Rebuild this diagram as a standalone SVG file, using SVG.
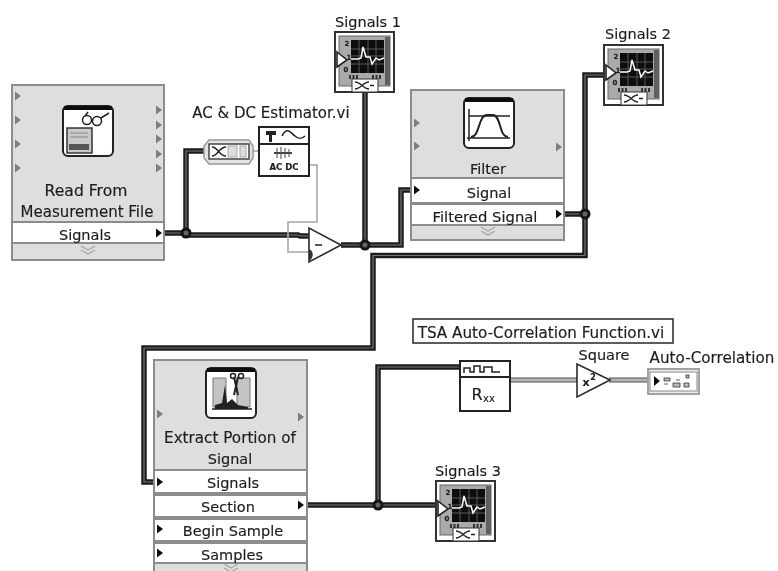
<svg xmlns="http://www.w3.org/2000/svg" width="778" height="571" viewBox="0 0 778 571">
<style>
text{font-family:"DejaVu Sans",Verdana,sans-serif;fill:#1c1c1c;stroke:#1c1c1c;stroke-width:.15px;font-size:14.5px;text-anchor:middle}
.t{font-size:15.200px}
.panel{fill:#dedede;stroke:#8c8c8c;stroke-width:2}
.row{fill:#fff;stroke:#8c8c8c;stroke-width:2}
.wo{fill:none;stroke:#1e1e1e;stroke-width:5.500}
.wi{fill:none;stroke:#777;stroke-width:1.200}
.go{fill:none;stroke:#868686;stroke-width:5.500}
.gi{fill:none;stroke:#c4c4c4;stroke-width:1.400}
.thin{fill:none;stroke:#a8a8a8;stroke-width:1.600}
.j{fill:#666;stroke:#141414;stroke-width:3}
.box{fill:#fff;stroke:#222;stroke-width:2}
.tri{fill:#fff;stroke:#2a2a2a;stroke-width:1.600}
.pin{fill:#111}
.gpin{fill:#7e7e7e}
.chev{fill:none;stroke:#a6a6a6;stroke-width:1.300}
.ico{fill:#fff;stroke:#222;stroke-width:2}
.k{fill:none;stroke:#222;stroke-width:1.500}
</style>
<defs>
<filter id="soft" x="0" y="0" width="100%" height="100%"><feGaussianBlur stdDeviation="0.35"/></filter>
<path id="p" d="M0-4.500L6 0L0 4.500Z"/>
<path id="chv" class="chev" d="M-7 0L0 4L7 0M-7 4L0 8L7 4"/>
<g id="scope">
<rect x="1" y="1" width="59" height="60" fill="#fff" stroke="#333" stroke-width="2"/>
<rect x="5" y="5" width="51" height="50" fill="#aaa" stroke="#666"/>
<rect x="51" y="6" width="5" height="48" fill="#5e5e5e"/>
<rect x="17" y="9" width="33" height="33" fill="#0f0f0f"/>
<path d="M17 18H50M17 25H50M17 33H50M25 9V42M34 9V42M42 9V42" stroke="#666" stroke-width=".8" fill="none"/>
<path d="M17 28H24L27 27L29 16L32 26L36 26L38 33L42 27L45 29L50 27" stroke="#fff" stroke-width="1.500" fill="none"/>
<path d="M3 21L13 29L3 36Z" fill="#fff" stroke="#222" stroke-width="1.600"/>
<text x="13" y="15" style="font-size:7px;font-weight:bold">2</text>
<text x="15" y="29" style="font-size:7px;font-weight:bold">1</text>
<text x="12" y="41" style="font-size:7px;font-weight:bold">0</text>
<path d="M15 46h10M38 46h10" stroke="#333" stroke-width="4" stroke-dasharray="2 1.500"/>
<rect x="18" y="48" width="26" height="13" fill="#fff" stroke="#333"/>
<path d="M21 51C27 51 29 58 35 58M21 58C27 58 29 51 35 51M36 54.500h4" stroke="#222" stroke-width="1.400" fill="none"/>
</g>
<g id="shell"><rect x="1" y="1" width="50" height="50" rx="5" class="ico"/><rect x="2" y="1" width="48" height="4" fill="#111"/></g>
<g id="wires">
<path d="M164 233H186V151H205M186 233V235H298L300 236H309M341 245H401V190H412M365 245V92M564 214H585M605 75H585V255.500H373V348H144V482H155M307 505H435M378 505V367H461"/>
</g>
</defs>
<g filter="url(#soft)">
<rect width="778" height="571" fill="#fff"/>
<g id="connectors">
<use href="#wires" class="wo"/>
<use href="#wires" class="wi"/>
<path class="go" d="M510 380H578M609 380H650"/>
<path class="gi" d="M510 380H578M609 380H650"/>
<path class="thin" d="M310 165H317V222H288V252H309"/>
<path class="thin" d="M253 151H259"/>
</g>
<g id="read-file">
<rect class="panel" x="12" y="85" width="152" height="175"/>
<use href="#shell" x="62" y="105"/>
<rect x="67" y="128" width="25" height="25" fill="#c9c9c9" stroke="#333" stroke-width="1.500"/>
<path d="M70 133H88M70 137H88" stroke="#888"/><path d="M69 144H89V150H69Z" fill="#555"/>
<circle cx="87" cy="120" r="4.500" class="k"/><circle cx="97" cy="121" r="4.500" class="k"/><path class="k" d="M91 120H93M101 118L109 113M85 116L88 112"/>
<text x="86" y="196" style="font-size:15.600px">Read From</text>
<text x="87" y="217" style="font-size:15px">Measurement File</text>
<rect class="row" x="12" y="222" width="152" height="21"/>
<text x="85" y="240">Signals</text>
<use href="#chv" x="88" y="246"/>
<use href="#p" class="gpin" x="15" y="96"/><use href="#p" class="gpin" x="15" y="120"/><use href="#p" class="gpin" x="15" y="144"/><use href="#p" class="gpin" x="15" y="168"/>
<use href="#p" class="gpin" x="156" y="110"/><use href="#p" class="gpin" x="156" y="125"/><use href="#p" class="gpin" x="156" y="139"/><use href="#p" class="gpin" x="156" y="154"/><use href="#p" class="gpin" x="156" y="168"/>
<use href="#p" class="pin" x="156" y="233"/>
</g>
<g id="converter">
<path d="M204 146L209 140H249L253 146V158L249 164H209L204 158Z" fill="#e4e4e4" stroke="#999" stroke-width="1.500"/>
<rect x="209" y="144" width="40" height="15" fill="#fff" stroke="#444" stroke-width="1.500"/>
<path d="M212 147C218 147 219 156 226 156M212 156C218 156 219 147 226 147" stroke="#222" stroke-width="1.400" fill="none"/>
<rect x="228" y="146" width="9" height="11" fill="#ddd" stroke="#aaa"/><rect x="240" y="146" width="6" height="11" fill="#ddd" stroke="#aaa"/>
</g>
<g id="ac-dc">
<text class="t" x="271" y="118" style="font-size:15px">AC &amp; DC Estimator.vi</text>
<rect class="box" x="259" y="127" width="50" height="49"/>
<path d="M259 144H309" stroke="#222" stroke-width="2"/>
<path d="M266 131H276V135H272V142H269V135H266Z" fill="#222"/>
<path class="k" d="M282 136C287 126 291 133 295 136C298 139 302 139 305 136"/>
<path d="M274 153H292" stroke="#444" stroke-width="2"/><path d="M277 148V158M281 147V159M285 148V158M289 149V157" stroke="#444"/>
<text x="284" y="170" style="font-size:8.500px;font-weight:bold">AC DC</text>
</g>
<g id="subtract">
<path class="tri" d="M309 228V262L341 245Z"/>
<path d="M315 245H322" stroke="#222" stroke-width="1.500"/>
<path d="M309 249C314 251 314 258 309 261Z" fill="#333"/>
</g>
<g id="signals-1">
<text x="368" y="27">Signals 1</text>
<use href="#scope" x="334" y="31"/>
</g>
<g id="filter">
<rect class="panel" x="411" y="90" width="153" height="150"/>
<use href="#shell" x="463" y="97"/>
<path class="k" d="M469 109V141M467 138H510M469 116H510"/>
<path d="M471 137C480 137 478 115 487 115H493C501 115 499 137 508 137" fill="none" stroke="#222" stroke-width="2"/>
<text x="488" y="174">Filter</text>
<rect class="row" x="411" y="178" width="153" height="25"/>
<text x="489" y="198">Signal</text>
<rect class="row" x="411" y="204" width="153" height="21"/>
<text x="485" y="222" style="font-size:14.800px">Filtered Signal</text>
<use href="#chv" x="488" y="227"/>
<use href="#p" class="gpin" x="414" y="123"/><use href="#p" class="gpin" x="414" y="146"/><use href="#p" class="gpin" x="556" y="147"/>
<use href="#p" class="pin" x="414" y="190"/><use href="#p" class="pin" x="556" y="214"/>
</g>
<g id="signals-2">
<text x="638" y="39">Signals 2</text>
<use href="#scope" x="603" y="44"/>
</g>
<g id="extract">
<path class="panel" d="M154 571V360H307V571"/>
<use href="#shell" x="205" y="367"/>
<path d="M213 378H226V407H213ZM237 378H250V407H237Z" fill="#c4c4c4" stroke="#777"/>
<path d="M212 409H252" stroke="#222" stroke-width="1.500"/><path d="M215 405L222 403L225 385L227 403L232 399L238 405L248 407V409H215Z" fill="#222"/>
<path d="M238 377L234 395M234 377L238 395" stroke="#222" stroke-width="2"/><circle cx="233" cy="376" r="2.500" class="k"/><circle cx="241" cy="376" r="2.500" class="k"/>
<text class="t" x="230" y="443">Extract Portion of</text>
<text x="230" y="464">Signal</text>
<rect class="row" x="154" y="470" width="153" height="23"/>
<text x="233" y="488">Signals</text>
<rect class="row" x="154" y="495" width="153" height="22"/>
<text x="228" y="512">Section</text>
<rect class="row" x="154" y="519" width="153" height="22"/>
<text x="233" y="536">Begin Sample</text>
<rect class="row" x="154" y="543" width="153" height="20"/>
<text x="232" y="560">Samples</text>
<use href="#chv" x="231" y="564"/>
<use href="#p" class="gpin" x="157" y="414"/><use href="#p" class="gpin" x="298" y="417"/>
<use href="#p" class="pin" x="157" y="482"/><use href="#p" class="pin" x="298" y="505"/><use href="#p" class="pin" x="157" y="529"/><use href="#p" class="pin" x="157" y="553"/>
</g>
<g id="signals-3">
<text x="468" y="476">Signals 3</text>
<use href="#scope" x="435" y="480"/>
</g>
<g id="tsa-label">
<rect x="413" y="319" width="260" height="24" fill="#fff" stroke="#333" stroke-width="1.600"/>
<text class="t" x="541" y="338">TSA Auto-Correlation Function.vi</text>
</g>
<g id="rxx">
<rect class="box" x="460" y="361" width="50" height="50"/>
<path d="M460 377H510" stroke="#222" stroke-width="2"/>
<path class="k" d="M464 373V368H470V372H474V366H480V372H484V367H492V372H500"/>
<text x="477" y="400" style="font-size:16px">R</text>
<text x="489" y="402" style="font-size:10px">xx</text>
</g>
<g id="square">
<text x="604" y="360">Square</text>
<path class="tri" d="M577 364V397L610 380Z"/>
<text x="586" y="386" style="font-size:11px;font-weight:bold">x</text>
<text x="593" y="380" style="font-size:8px;font-weight:bold">2</text>
</g>
<g id="auto-correlation">
<text class="t" x="712" y="363">Auto-Correlation</text>
<rect x="648" y="369" width="51" height="25" fill="#eee" stroke="#999" stroke-width="1.800"/>
<rect x="650" y="372" width="47" height="19" fill="#fff" stroke="#888"/>
<path d="M654 376L660 381L654 386Z" fill="#111"/>
<path d="M664 378h6v3h-6ZM676 380h4M686 375h3v3h-3ZM668 384h-4M673 383h7v4h-7ZM684 383h5v4h-5Z" fill="#bbb" stroke="#333" stroke-width=".8"/>
</g>
<g id="junctions">
<circle class="j" cx="186" cy="233" r="4"/>
<circle class="j" cx="365" cy="245" r="4"/>
<circle class="j" cx="585" cy="214" r="4"/>
<circle class="j" cx="378" cy="505" r="4"/>
</g>
</g>
</svg>
